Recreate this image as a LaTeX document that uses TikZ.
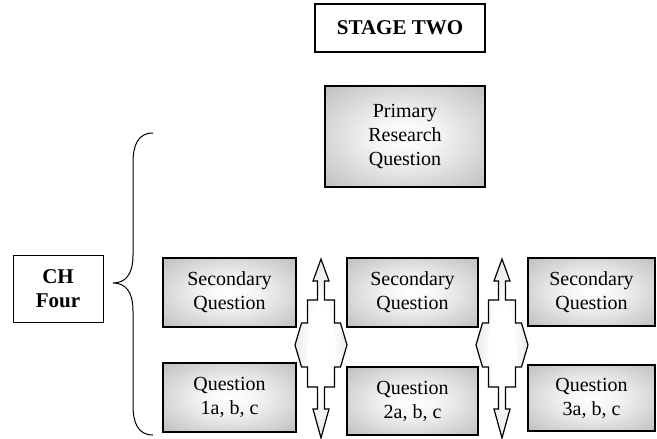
\documentclass[tikz,border=0pt]{standalone}
\usepackage{fontspec}
\setmainfont{Liberation Serif}
\usepackage{tikz}

\pgfdeclareradialshading{boxglow}{\pgfpoint{0bp}{0bp}}{color(0bp)=(white); color(10bp)=(white!96!black);
	color(50bp)=(black!37); color(75bp)=(black!44)}
\pgfdeclareradialshading{arrowglow}{\pgfpoint{0bp}{0bp}}{color(0bp)=(white); color(12bp)=(white);
	color(50bp)=(black!26); color(75bp)=(black!30)}

\tikzset{
	qbox/.style={draw=black, line width=1.6pt, shading=boxglow,
		align=center, font=\fontsize{20}{24}\selectfont, inner sep=0pt},
	headbox/.style={draw=black, line width=1.8pt, fill=white, align=center,
		font=\fontsize{21}{24}\selectfont\bfseries, inner sep=0pt},
	arrowfill/.style={draw=black, line width=1.2pt, shading=arrowglow}
}

\begin{document}
\begin{tikzpicture}[x=1pt,y=-1pt]
			\useasboundingbox (0,0) rectangle (657,439);
			\node[headbox, minimum width=170, minimum height=48] (stage) at (400,28) {STAGE TWO};
			\node[qbox, minimum width=160, minimum height=101] (prim) at (405,136.5) {Primary\\Research\\Question};
			\node[headbox, line width=1pt, minimum width=90, minimum height=67] (ch) at (58,288.5) {CH\\Four};
			\node[qbox, minimum width=133, minimum height=69] (sec1) at (229.5,292.5) {Secondary\\Question};
			\node[qbox, minimum width=131, minimum height=69] (sec2) at (412.5,292.5) {Secondary\\Question};
			\node[qbox, minimum width=127, minimum height=68] (sec3) at (591.5,292) {Secondary\\Question};
			\node[qbox, minimum width=133, minimum height=69] (q1) at (229.5,397.5) {Question\\1a, b, c};
			\node[qbox, minimum width=131, minimum height=68] (q2) at (412.5,401) {Question\\2a, b, c};
			\node[qbox, minimum width=127, minimum height=66] (q3) at (591.5,398) {Question\\3a, b, c};
			% brace
			\coordinate (btop) at (153,133);
			\coordinate (btip) at (113,283);
			\coordinate (bbot) at (153,435);
			\draw[line width=1pt] (btop) .. controls (138,133) and (133,145) .. (133,163) -- (133,255)
				.. controls (133,275) and (125,283) .. (btip)
				.. controls (125,283) and (133,291) .. (133,311) -- (133,405)
				.. controls (133,423) and (138,435) .. (bbot);
			% cross arrows
			\foreach \cx in {321,502}
			\draw[arrowfill, shift={(\cx,345)}] (0,-86) -- (8,-64) -- (3.5,-64) -- (3.5,-45) -- (13.5,-45)
				-- (13.5,-22) -- (19.5,-22) -- (26,0) -- (19.5,22) -- (13.5,22) -- (13.5,42) -- (3.5,42)
				-- (3.5,64) -- (8,64) -- (0,93) -- (-8,64) -- (-3.5,64) -- (-3.5,42) -- (-13.5,42)
				-- (-13.5,22) -- (-19.5,22) -- (-26,0) -- (-19.5,-22) -- (-13.5,-22) -- (-13.5,-45)
				-- (-3.5,-45) -- (-3.5,-64) -- (-8,-64) -- cycle;
		\end{tikzpicture}
\end{document}
